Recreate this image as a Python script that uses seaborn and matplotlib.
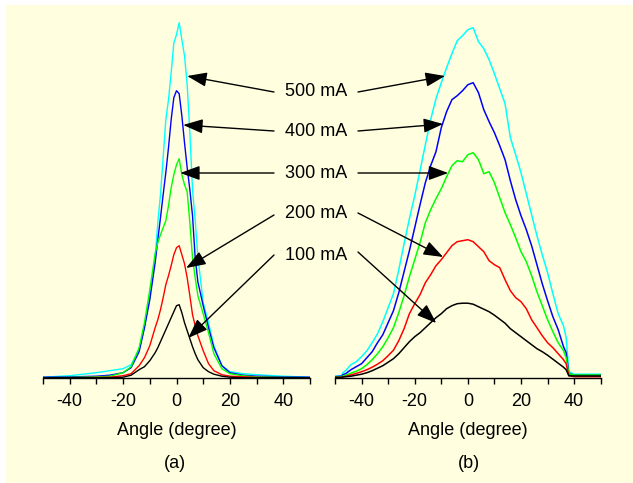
import matplotlib
matplotlib.use("Agg")
import matplotlib.pyplot as plt
import seaborn as sns
from matplotlib.patches import Rectangle

plt.rcParams['font.family'] = ['Liberation Sans', 'DejaVu Sans']
plt.rcParams['axes.unicode_minus'] = False

# ---------------- data: panel (a) ----------------
angle_a = [-50, -40, -30, -25, -20, -17, -14, -12, -10, -8, -7, -6, -5, -4, -3, -2, -1, 0,
           1, 2, 3, 4, 5, 6, 7, 8, 10, 12, 14, 17, 20, 25, 30, 40, 50]
a_100 = [0, 0, 0, 0, 0.5, 2.5, 8, 11, 17, 25, 30, 36, 42, 48, 54, 60, 66, 72,
         73, 65, 55, 47, 39, 31, 24, 18, 10, 6, 3.5, 1.5, 0.5, 0, 0, 0, 0]
a_200 = [0, 0, 0.3, 0.5, 2, 4, 12, 20, 32, 50, 58, 68, 80, 93, 102, 112, 123, 130,
         132, 123, 114, 100, 82, 63, 52, 42, 27, 14, 7, 3, 1.5, 1, 0.3, 0, 0]
a_300 = [0, 0.3, 0.8, 1.5, 5, 11, 30, 55, 88, 124, 135, 143, 150, 157, 172, 190, 203, 213,
         219, 203, 193, 186, 155, 120, 100, 82, 64, 45, 24, 9, 4, 2, 0.8, 0.3, 0]
a_400 = [0.5, 0.8, 1.5, 2.5, 5, 10, 26, 50, 78, 115, 138, 160, 183, 205, 230, 258, 280, 287,
         284, 262, 235, 210, 188, 162, 120, 96, 72, 50, 30, 12, 5, 2.5, 1.5, 0.8, 0.5]
a_500 = [0.5, 2, 5, 7, 9, 13, 28, 50, 82, 121, 155, 183, 220, 258, 278, 305, 335, 343,
         355, 338, 322, 293, 245, 188, 157, 121, 75, 55, 32, 12, 6, 4, 3, 1.5, 0.5]

# ---------------- data: panel (b) ----------------
angle_b = [-50, -47.5, -47, -46, -44, -42, -40, -38, -36, -34, -32, -30, -28, -26, -24, -22,
           -20, -18, -16, -14, -12, -10, -8, -6, -4, -2, 0, 2, 4, 6, 8, 10, 12, 14, 16, 18,
           20, 22, 24, 26, 28, 30, 32, 34, 36, 37, 38, 40, 50]
b_100 = [0.3, 0.3, 0.8, 1, 1.5, 2.5, 3.5, 5, 7, 9.5, 12, 15.5, 19, 24, 30, 36, 41, 45, 50, 55,
         60, 64, 69, 72, 74, 74.5, 74.5, 73.5, 71, 68.5, 66, 62.5, 58.5, 54.5, 49, 45, 41, 37,
         33, 29, 26, 22.5, 18.5, 14.5, 10.5, 8, 2, 1.7, 1.7]
b_200 = [0.3, 0.4, 0.8, 1.2, 2.8, 4.3, 6, 8, 10.5, 13.5, 17, 22, 27.5, 37, 49, 64, 74, 83, 95,
         103, 112, 118, 125, 132, 136, 137, 138, 136, 131, 126, 117, 113, 110, 98, 87, 80, 76,
         69, 58, 50, 42, 35, 30, 24, 18, 14, 2, 1, 1]
b_300 = [0.5, 1, 1.7, 2.5, 4.5, 6.5, 9, 13, 18, 24, 31, 40, 50, 65, 82, 101, 118, 135, 155,
         168, 179, 189, 201, 212, 217, 216, 223, 225, 218, 204, 206, 195, 180, 165, 153, 140,
         126, 116, 102, 86, 72, 58, 46, 35, 27, 20, 4, 2.7, 2.7]
b_400 = [1, 1.5, 3, 4, 8, 11, 14, 20, 26, 35, 43, 55, 67, 85, 106, 127, 150, 173, 195, 212,
         226, 250, 266, 278, 282, 287, 293, 295, 285, 268, 256, 245, 232, 218, 197, 178, 162,
         148, 132, 113, 94, 77, 61, 48, 31, 25, 4, 2.7, 2.7]
b_500 = [1.5, 2, 5, 7, 13, 16, 21, 27, 35, 44, 56, 70, 84, 108, 134, 159, 182, 207, 233, 258,
         279, 295, 310, 324, 337, 342, 348, 350, 336, 329, 318, 304, 289, 274, 240, 223, 205,
         184, 163, 142, 123, 105, 84, 64, 52, 40, 6, 3.5, 3.5]

labels = ['500 mA', '400 mA', '300 mA', '200 mA', '100 mA']
colors = ['#00FFFF', '#0000FF', '#00FF00', '#FF0000', '#000000']
series_a = [a_500, a_400, a_300, a_200, a_100]
series_b = [b_500, b_400, b_300, b_200, b_100]

W, H = 633, 483
fig = plt.figure(figsize=(W / 100, H / 100), dpi=100)
fig.patch.set_facecolor('white')
fig.add_artist(Rectangle((6 / W, 0), 1, 1 - 5 / H, transform=fig.transFigure,
                         facecolor='#FFFFE0', edgecolor='none', zorder=-10))

ax_a = fig.add_axes([43 / W, (H - 377.7) / H, 267 / W, 362.7 / H])
ax_b = fig.add_axes([335 / W, (H - 377.7) / H, 265.7 / W, 362.7 / H])

for ax, xs, ser, lw in [(ax_a, angle_a, series_a, 1.0), (ax_b, angle_b, series_b, 1.1)]:
    for ys, c in zip(ser, colors):
        sns.lineplot(x=xs, y=ys, color=c, lw=lw, ax=ax, sort=False, estimator=None)
    ax.set_xlim(-50, 50)
    ax.set_ylim(0, 362.7)
    ax.set_facecolor('none')
    for s in ['left', 'right', 'top']:
        ax.spines[s].set_visible(False)
    ax.spines['bottom'].set_color('black')
    ax.spines['bottom'].set_linewidth(1.0)
    ax.set_yticks([])
    ax.set_xticks([-40, -20, 0, 20, 40])
    ax.set_xticks([-50, -30, -10, 10, 30, 50], minor=True)
    ax.tick_params(axis='x', which='major', direction='out', length=4, width=1,
                   labelsize=13, pad=7, colors='black')
    ax.tick_params(axis='x', which='minor', direction='out', length=4, width=1)
    ax.set_xlabel('Angle (degree)', fontsize=13, labelpad=9)
    ax.set_ylabel('')

fig.text(175 / W, 1 - 463 / H, '(a)', ha='center', va='center', fontsize=13)
fig.text(469 / W, 1 - 463 / H, '(b)', ha='center', va='center', fontsize=13)

label_y = [91, 131, 173, 213, 256]
tail_left_y = [92, 131, 173, 215, 255]
tail_right_y = [92, 131, 173, 213, 252]
tips_a = [(4.0, 301.7), (2.5, 252.7), (1.4, 204.7), (3.6, 109.7), (4.4, 39.7)]
tips_b = [(-8.6, 301.7), (-9.3, 253.7), (-7.4, 204.7), (-9.3, 120.7), (-11.9, 54.7)]

aprops = dict(arrowstyle='-|>,head_length=0.6,head_width=0.22', mutation_scale=20,
              color='black', lw=1.0, shrinkA=0, shrinkB=0)
for lab, ly, tly, try_, ta, tb in zip(labels, label_y, tail_left_y, tail_right_y, tips_a, tips_b):
    fig.text(316 / W, 1 - ly / H, lab, ha='center', va='center', fontsize=13)
    ax_a.annotate('', xy=ta, xycoords='data', xytext=(274 / W, 1 - tly / H),
                  textcoords='figure fraction', arrowprops=aprops, annotation_clip=False)
    ax_b.annotate('', xy=tb, xycoords='data', xytext=(358 / W, 1 - try_ / H),
                  textcoords='figure fraction', arrowprops=aprops, annotation_clip=False)

fig.savefig('out.png', dpi=100, facecolor=fig.get_facecolor())
